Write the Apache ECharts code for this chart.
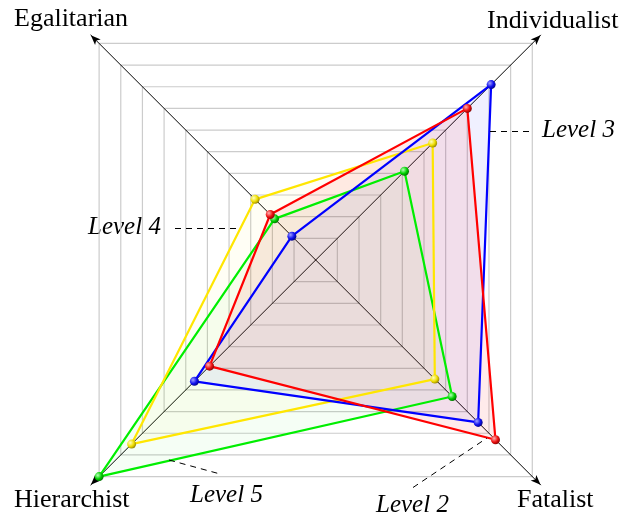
<!DOCTYPE html>
<html>
<head>
<meta charset="utf-8">
<script src="https://cdn.jsdelivr.net/npm/echarts@6/dist/echarts.min.js"></script>
<style>html,body{margin:0;padding:0;background:#fff}#c{width:640px;height:516px}</style>
</head>
<body>
<div id="c"></div>
<script>
const indicators = ['Egalitarian', 'Hierarchist', 'Fatalist', 'Individualist'];
const blueVals = [1.1, 5.6, 7.5, 8.1];
const redVals = [2.1, 4.9, 8.3, 7.0];
const yellowVals = [2.8, 8.5, 5.5, 5.4];
const greenVals = [1.9, 10, 6.3, 4.1];
const levelLabels = ['Level 4', 'Level 3', 'Level 5', 'Level 2'];

const CX = 315.7, CY = 260, R = 306.3, R2 = 318;
const FONT = '"Liberation Serif", serif';

function ball(light, mid, dark) {
  return { type: 'radial', x: 0.35, y: 0.35, r: 0.75,
    colorStops: [{ offset: 0, color: light }, { offset: 0.55, color: mid }, { offset: 1, color: dark }] };
}
function fillSeries(name, vals, fill, op) {
  return {
    type: 'radar', radarIndex: 0, symbol: 'none', z: 2, silent: true,
    data: [{ name: name, value: vals,
      lineStyle: { width: 0, opacity: 0 },
      areaStyle: { color: fill, opacity: op } }]
  };
}
function lineSeries(name, vals, line, b) {
  return {
    type: 'radar', radarIndex: 0, symbol: 'circle', symbolSize: 9, z: 4,
    data: [{ name: name, value: vals,
      lineStyle: { color: line, width: 2.2 },
      itemStyle: { color: b } }]
  };
}

const chart = echarts.init(document.getElementById('c'), null, { renderer: 'canvas' });
const dash = { stroke: '#000', lineWidth: 1, lineDash: [6, 5] };
chart.setOption({
  animation: false,
  radar: [{
    center: [CX, CY], radius: R, startAngle: 135, shape: 'polygon', splitNumber: 10,
    indicator: indicators.map(n => ({ name: n, min: 0, max: 10 })),
    axisName: { show: false },
    axisLine: { show: false },
    splitLine: { lineStyle: { color: '#cccccc', width: 1.2 } },
    splitArea: { show: false },
    axisTick: { show: false }, axisLabel: { show: false }
  }, {
    center: [CX, CY], radius: R2, startAngle: 135, shape: 'polygon', splitNumber: 1,
    indicator: indicators.map(n => ({ name: n, min: 0, max: 10 })),
    axisName: { show: false },
    axisLine: { show: true, symbol: ['none', 'arrow'], symbolSize: [6, 10], lineStyle: { color: '#000', width: 1 } },
    splitLine: { show: false }, splitArea: { show: false },
    axisTick: { show: false }, axisLabel: { show: false }
  }],
  series: [
    fillSeries('Green', greenVals, '#00ee00', 0.04),
    fillSeries('Yellow', yellowVals, '#ffe600', 0.04),
    fillSeries('Blue', blueVals, '#0000ff', 0.06),
    fillSeries('Red', redVals, '#ff0000', 0.08),
    lineSeries('Green', greenVals, '#00ee00', ball('#b8ffb8', '#00d000', '#006000')),
    lineSeries('Yellow', yellowVals, '#ffe600', ball('#ffffc0', '#eedd00', '#807000')),
    lineSeries('Blue', blueVals, '#0000ff', ball('#a0a0ff', '#1010ee', '#000070')),
    lineSeries('Red', redVals, '#ff0000', ball('#ffb0b0', '#ee1010', '#700000'))
  ],
  graphic: [
    { type: 'text', left: 14, top: 6, style: { text: indicators[0], font: '26px ' + FONT, fill: '#000' } },
    { type: 'text', left: 487, top: 8, style: { text: indicators[3], font: '26px ' + FONT, fill: '#000' } },
    { type: 'text', left: 14, top: 487, style: { text: indicators[1], font: '26px ' + FONT, fill: '#000' } },
    { type: 'text', left: 517, top: 487, style: { text: indicators[2], font: '26px ' + FONT, fill: '#000' } },
    { type: 'text', left: 88, top: 215, style: { text: levelLabels[0], font: 'italic 25px ' + FONT, fill: '#000' } },
    { type: 'text', left: 542, top: 118, style: { text: levelLabels[1], font: 'italic 25px ' + FONT, fill: '#000' } },
    { type: 'text', left: 190, top: 483, style: { text: levelLabels[2], font: 'italic 25px ' + FONT, fill: '#000' } },
    { type: 'text', left: 376, top: 493, style: { text: levelLabels[3], font: 'italic 25px ' + FONT, fill: '#000' } },
    { type: 'line', shape: { x1: 175, y1: 228.5, x2: 239, y2: 228.5 }, style: dash, z: 10 },
    { type: 'line', shape: { x1: 490, y1: 131.5, x2: 531, y2: 131.5 }, style: dash, z: 10 },
    { type: 'line', shape: { x1: 169, y1: 460, x2: 222, y2: 474.5 }, style: dash, z: 10 },
    { type: 'line', shape: { x1: 413, y1: 487.5, x2: 487, y2: 438 }, style: dash, z: 10 }
  ]
});
</script>
</body>
</html>
